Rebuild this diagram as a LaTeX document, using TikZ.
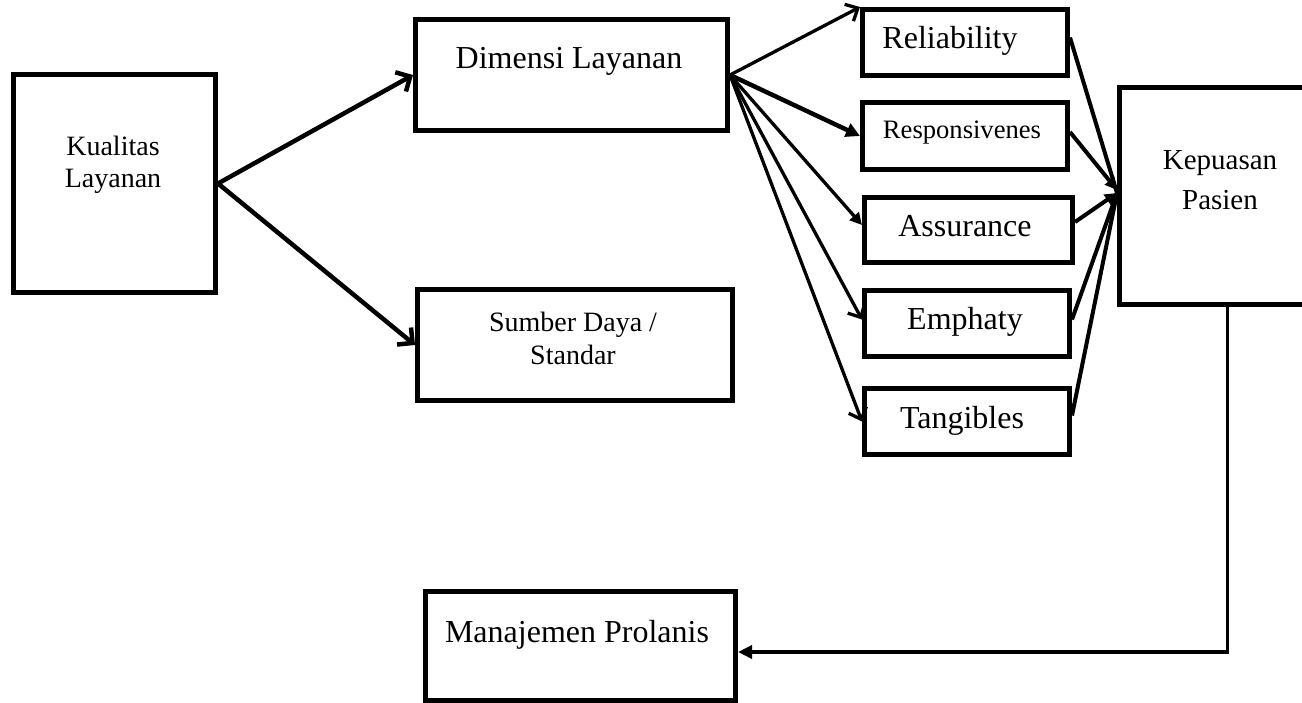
\documentclass[tikz,border=0pt]{standalone}
\usepackage{fontspec}
\setmainfont{Liberation Serif}
\usetikzlibrary{arrows.meta,calc}
\begin{document}
\begin{tikzpicture}[x=1pt,y=-1pt,
  box/.style={draw,line width=5pt,rectangle,inner sep=0pt,anchor=north west},
  lbl/.style={inner sep=0pt,align=center},
  open/.style={-{Straight Barb[length=11pt,width=22pt]}},
  opensm/.style={-{Straight Barb[length=10pt,width=19pt]}},
  filled/.style={-{Triangle[length=14pt,width=14pt]}},
  filledsm/.style={-{Triangle[length=12pt,width=12pt]}},
  filledbot/.style={-{Triangle[length=14pt,width=13pt]}}]
\useasboundingbox (0,0) rectangle (1302,702);
% boxes
\node[box,minimum width=202pt,minimum height=218pt] (kual) at (11,72) {};
\node[box,minimum width=312pt,minimum height=111pt] (dim) at (413,17) {};
\node[box,minimum width=315pt,minimum height=111pt] (sum) at (415,287) {};
\node[box,minimum width=205pt,minimum height=66pt] (rel) at (860,7) {};
\node[box,minimum width=205pt,minimum height=67pt] (resp) at (860,100) {};
\node[box,minimum width=208pt,minimum height=65pt] (asr) at (862,195) {};
\node[box,minimum width=205pt,minimum height=66pt] (emp) at (862,288) {};
\node[box,minimum width=205pt,minimum height=66pt] (tan) at (862,386) {};
\node[box,minimum width=216pt,minimum height=217pt] (kep) at (1117,85) {};
\node[box,minimum width=310pt,minimum height=109pt] (man) at (423,589) {};
% texts
\node[lbl,font=\fontsize{28}{32}\selectfont] (kualT) at (113,165) {Kualitas\\Layanan};
\node[lbl,font=\fontsize{32}{38}\selectfont,anchor=base] (dimT) at (569,68) {Dimensi Layanan};
\node[lbl,font=\fontsize{28}{33}\selectfont] (sumT) at (573,338) {Sumber Daya /\\Standar};
\node[lbl,font=\fontsize{32}{38}\selectfont,anchor=base] (relT) at (950,48) {Reliability};
\node[lbl,font=\fontsize{26.6}{32}\selectfont,anchor=base] (respT) at (962,138) {Responsivenes};
\node[lbl,font=\fontsize{32}{38}\selectfont,anchor=base] (asrT) at (965,236) {Assurance};
\node[lbl,font=\fontsize{32}{38}\selectfont,anchor=base] (empT) at (965,329) {Emphaty};
\node[lbl,font=\fontsize{32}{38}\selectfont,anchor=base] (tanT) at (962,428) {Tangibles};
\node[lbl,font=\fontsize{29}{40}\selectfont] (kepT) at (1220,180) {Kepuasan\\Pasien};
\node[lbl,font=\fontsize{32}{38}\selectfont,anchor=base] (manT) at (577,642) {Manajemen Prolanis};
% connectors
\draw[open,line width=4.5pt] (kual.east) -- (dim.west);
\draw[open,line width=4.5pt] (kual.east) -- (sum.west);
\coordinate (fan) at (dim.east);
\draw[opensm,line width=3.3pt] (fan) -- (rel.north west);
\draw[filled,line width=4.5pt] (fan) -- (resp.west);
\draw[filledsm,line width=3.3pt] (fan) -- ($(asr.west)+(0,-5)$);
\draw[opensm,line width=3.3pt] (fan) -- ($(emp.west)+(0,-4)$);
\draw[opensm,line width=3.3pt] (fan) -- (tan.west);
\coordinate (kin) at ($(kep.west)+(0,-3)$);
\draw[line width=4pt] ($(rel.east)+(0,-5)$) -- (kin);
\draw[filledsm,line width=4pt] ($(resp.east)+(0,-4)$) -- ($(kep.west)+(0,-6)$);
\draw[filledsm,line width=4pt] ($(asr.east)+(0,-8)$) -- (kin);
\draw[line width=4pt] ($(emp.east)+(0,-4)$) -- (kin);
\draw[line width=4pt] ($(tan.east)+(0,-6)$) -- (kin);
\draw[filledbot,line width=3.5pt] (kep.south) |- ($(man.east)+(0,6)$);
\end{tikzpicture}
\end{document}
